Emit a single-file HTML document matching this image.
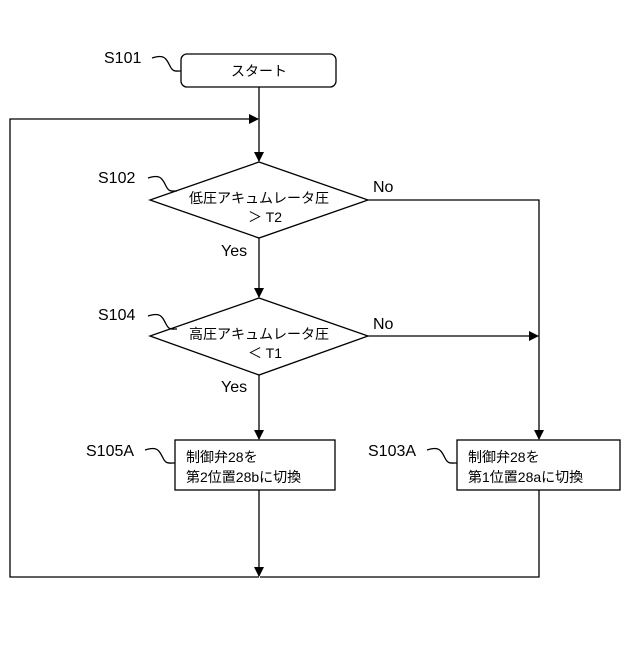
<!DOCTYPE html>
<html><head><meta charset="utf-8"><style>body{margin:0;background:#fff}</style></head><body>
<svg width="640" height="640" xmlns="http://www.w3.org/2000/svg" font-family="Liberation Sans, Noto Sans CJK JP, sans-serif" font-size="15" fill="#000">
<defs><marker id="a" markerWidth="10" markerHeight="10" refX="9" refY="5" orient="auto" markerUnits="userSpaceOnUse"><path d="M0,0 L10,5 L0,10 z" fill="#000"/></marker></defs>
<g stroke="#000" stroke-width="1.3" fill="none">
<rect x="181" y="54" width="155" height="33" rx="6" fill="#fff"/>
<line x1="259" y1="87" x2="259" y2="161" marker-end="url(#a)"/>
<polyline points="259,577 10,577 10,119 258,119" marker-end="url(#a)"/>
<polygon points="259,162 368,200 259,238 150,200" fill="#fff"/>
<line x1="259" y1="238" x2="259" y2="297" marker-end="url(#a)"/>
<polygon points="259,298 368,336 259,375 150,336" fill="#fff"/>
<line x1="259" y1="375" x2="259" y2="439" marker-end="url(#a)"/>
<polyline points="368,200 539,200 539,439" marker-end="url(#a)"/>
<line x1="368" y1="336" x2="538" y2="336" marker-end="url(#a)"/>
<rect x="175" y="440" width="160" height="50" fill="#fff"/>
<rect x="457" y="440" width="163" height="50" fill="#fff"/>
<line x1="259" y1="490" x2="259" y2="576" marker-end="url(#a)"/>
<polyline points="539,490 539,577 260,577"/>
<path d="M152,58 c12,-4 14,0 18,8 c3,6 5,5 11,5"/>
<path d="M148,178 c12,-4 14,0 18,8 c3,6 5,5 11,5"/>
<path d="M148,316 c12,-4 14,0 18,8 c3,6 5,5 11,5"/>
<path d="M145,450 c12,-4 14,0 18,8 c3,6 5,5 12,5"/>
<path d="M427,450 c12,-4 14,0 18,8 c3,6 5,5 12,5"/>
</g>
<g font-size="16">
<text x="104" y="63">S101</text>
<text x="98" y="183">S102</text>
<text x="98" y="320">S104</text>
<text x="86" y="456">S105A</text>
<text x="368" y="456">S103A</text>
<text x="373" y="192">No</text>
<text x="373" y="329">No</text>
<text x="221" y="256">Yes</text>
<text x="221" y="392">Yes</text>
</g>
<text x="259" y="76" text-anchor="middle" font-size="14">スタート</text>
<text x="259" y="203" text-anchor="middle" font-size="14">低圧アキュムレータ圧</text>
<text x="265" y="222" text-anchor="middle" font-size="14">＞ T2</text>
<text x="259" y="339" text-anchor="middle" font-size="14">高圧アキュムレータ圧</text>
<text x="265" y="358" text-anchor="middle" font-size="14">＜ T1</text>
<text x="186" y="462" font-size="14">制御弁28を</text>
<text x="186" y="482" font-size="14">第2位置28bに切換</text>
<text x="468" y="462" font-size="14">制御弁28を</text>
<text x="468" y="482" font-size="14">第1位置28aに切換</text>
</svg>
</body></html>
